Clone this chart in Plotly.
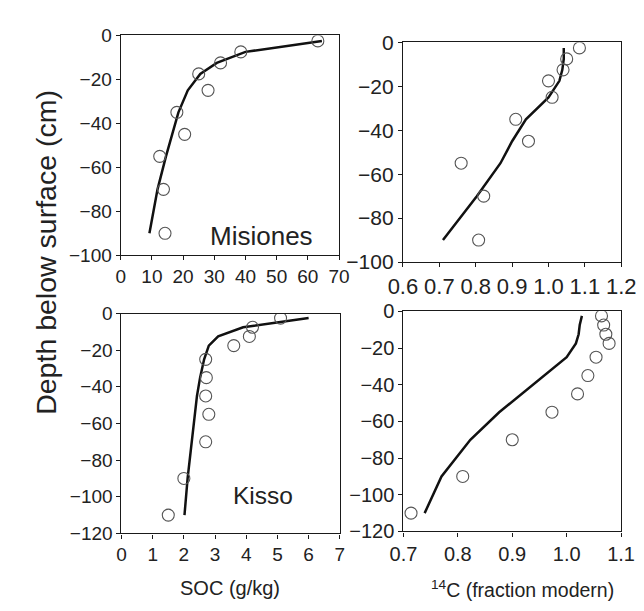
import plotly.graph_objects as go

# ---------------- data ----------------
mis_depth = [-2.5, -7.5, -12.5, -17.5, -25, -35, -45, -55, -70, -90]
mis_soc_obs = [63.2, 38.5, 32.0, 25.0, 28.0, 18.0, 20.5, 12.5, 13.7, 14.2]
mis_soc_mod = [64.5, 40.0, 30.8, 25.5, 21.5, 18.5, 16.5, 14.5, 11.8, 9.2]
mis_c14_obs = [1.085, 1.05, 1.04, 1.00, 1.01, 0.91, 0.945, 0.76, 0.822, 0.808]
mis_c14_mod = [1.042, 1.042, 1.038, 1.030, 1.000, 0.938, 0.900, 0.868, 0.803, 0.710]

kis_depth = [-2.5, -7.5, -12.5, -17.5, -25, -35, -45, -55, -70, -90, -110]
kis_soc_obs = [5.1, 4.2, 4.1, 3.6, 2.7, 2.72, 2.7, 2.8, 2.7, 2.0, 1.5]
kis_soc_mod = [6.0, 3.9, 3.1, 2.8, 2.65, 2.52, 2.42, 2.35, 2.25, 2.12, 2.02]
kis_c14_obs = [1.064, 1.068, 1.072, 1.078, 1.054, 1.039, 1.02, 0.973, 0.90, 0.809, 0.714]
kis_c14_mod = [1.028, 1.024, 1.022, 1.017, 1.000, 0.958, 0.917, 0.876, 0.823, 0.770, 0.739]

site_labels = ["Misiones", "Kisso"]
y_title = "Depth below surface (cm)"
x_title_soc = "SOC (g/kg)"
x_title_c14 = "<sup>14</sup>C (fraction modern)"

W, H = 644, 611
FONT = "Liberation Sans, Arial, sans-serif"

fig = go.Figure()

panels = [
    (mis_soc_obs, mis_soc_mod, mis_depth, "x", "y"),
    (mis_c14_obs, mis_c14_mod, mis_depth, "x2", "y2"),
    (kis_soc_obs, kis_soc_mod, kis_depth, "x3", "y3"),
    (kis_c14_obs, kis_c14_mod, kis_depth, "x4", "y4"),
]
for obs, mod, dep, xa, ya in panels:
    fig.add_trace(go.Scatter(x=mod, y=dep, mode="lines", xaxis=xa, yaxis=ya,
                             line=dict(color="#111111", width=2.5), hoverinfo="skip"))
    fig.add_trace(go.Scatter(x=obs, y=dep, mode="markers", xaxis=xa, yaxis=ya,
                             marker=dict(symbol="circle-open", size=12,
                                         color="#555555", line=dict(width=1.1))))

def px_dom_x(a, b):
    return [a / W, b / W]

def px_dom_y(top, bot):
    return [1 - bot / H, 1 - top / H]

def axis(dom, rng, dtick, fsize, fmt=None, anchor=None):
    d = dict(domain=dom, range=rng, dtick=dtick, tick0=rng[0], showline=True,
             linecolor="#1a1a1a", linewidth=1.2, mirror=True, ticks="outside",
             ticklen=4, tickwidth=1, tickcolor="#1a1a1a", showgrid=False,
             zeroline=False, tickfont=dict(family=FONT, size=fsize, color="#222222"),
             anchor=anchor, fixedrange=True)
    if fmt:
        d["tickformat"] = fmt
    return d

fig.update_layout(
    width=W, height=H, margin=dict(l=0, r=0, t=0, b=0),
    paper_bgcolor="white", plot_bgcolor="white", showlegend=False,
    xaxis=axis(px_dom_x(102.5, 331.5), [0, 70], 10, 19, anchor="y"),
    yaxis=axis(px_dom_y(16, 244.5), [-100, 0], 20, 19, anchor="x"),
    xaxis2=axis(px_dom_x(398.5, 627.5), [0.6, 1.2], 0.1, 22, ".1f", anchor="y2"),
    yaxis2=axis(px_dom_y(23.3, 251.5), [-100, 0], 20, 21, anchor="x2"),
    xaxis3=axis(px_dom_x(103.3, 332.3), [0, 7], 1, 19, anchor="y3"),
    yaxis3=axis(px_dom_y(305, 533.5), [-120, 0], 20, 19, anchor="x3"),
    xaxis4=axis(px_dom_x(399, 627.3), [0.7, 1.1], 0.1, 20, ".1f", anchor="y4"),
    yaxis4=axis(px_dom_y(302.7, 531.5), [-120, 0], 20, 20, anchor="x4"),
)

annots = [
    dict(text=y_title, x=24 / W, y=1 - 241 / H, textangle=-90, size=28.5),
    dict(text=x_title_soc, x=217 / W, y=1 - 590 / H, textangle=0, size=20),
    dict(text=x_title_c14, x=524 / W, y=1 - 591 / H, textangle=0, size=19.5),
    dict(text=site_labels[0], x=250 / W, y=1 - 224 / H, textangle=0, size=26),
    dict(text=site_labels[1], x=252 / W, y=1 - 494 / H, textangle=0, size=24.5),
]
for a in annots:
    fig.add_annotation(text=a["text"], x=a["x"], y=a["y"], xref="paper", yref="paper",
                       xanchor="center", yanchor="middle", showarrow=False,
                       textangle=a["textangle"],
                       font=dict(family=FONT, size=a["size"], color="#222222"))

fig.write_html("out.html")
